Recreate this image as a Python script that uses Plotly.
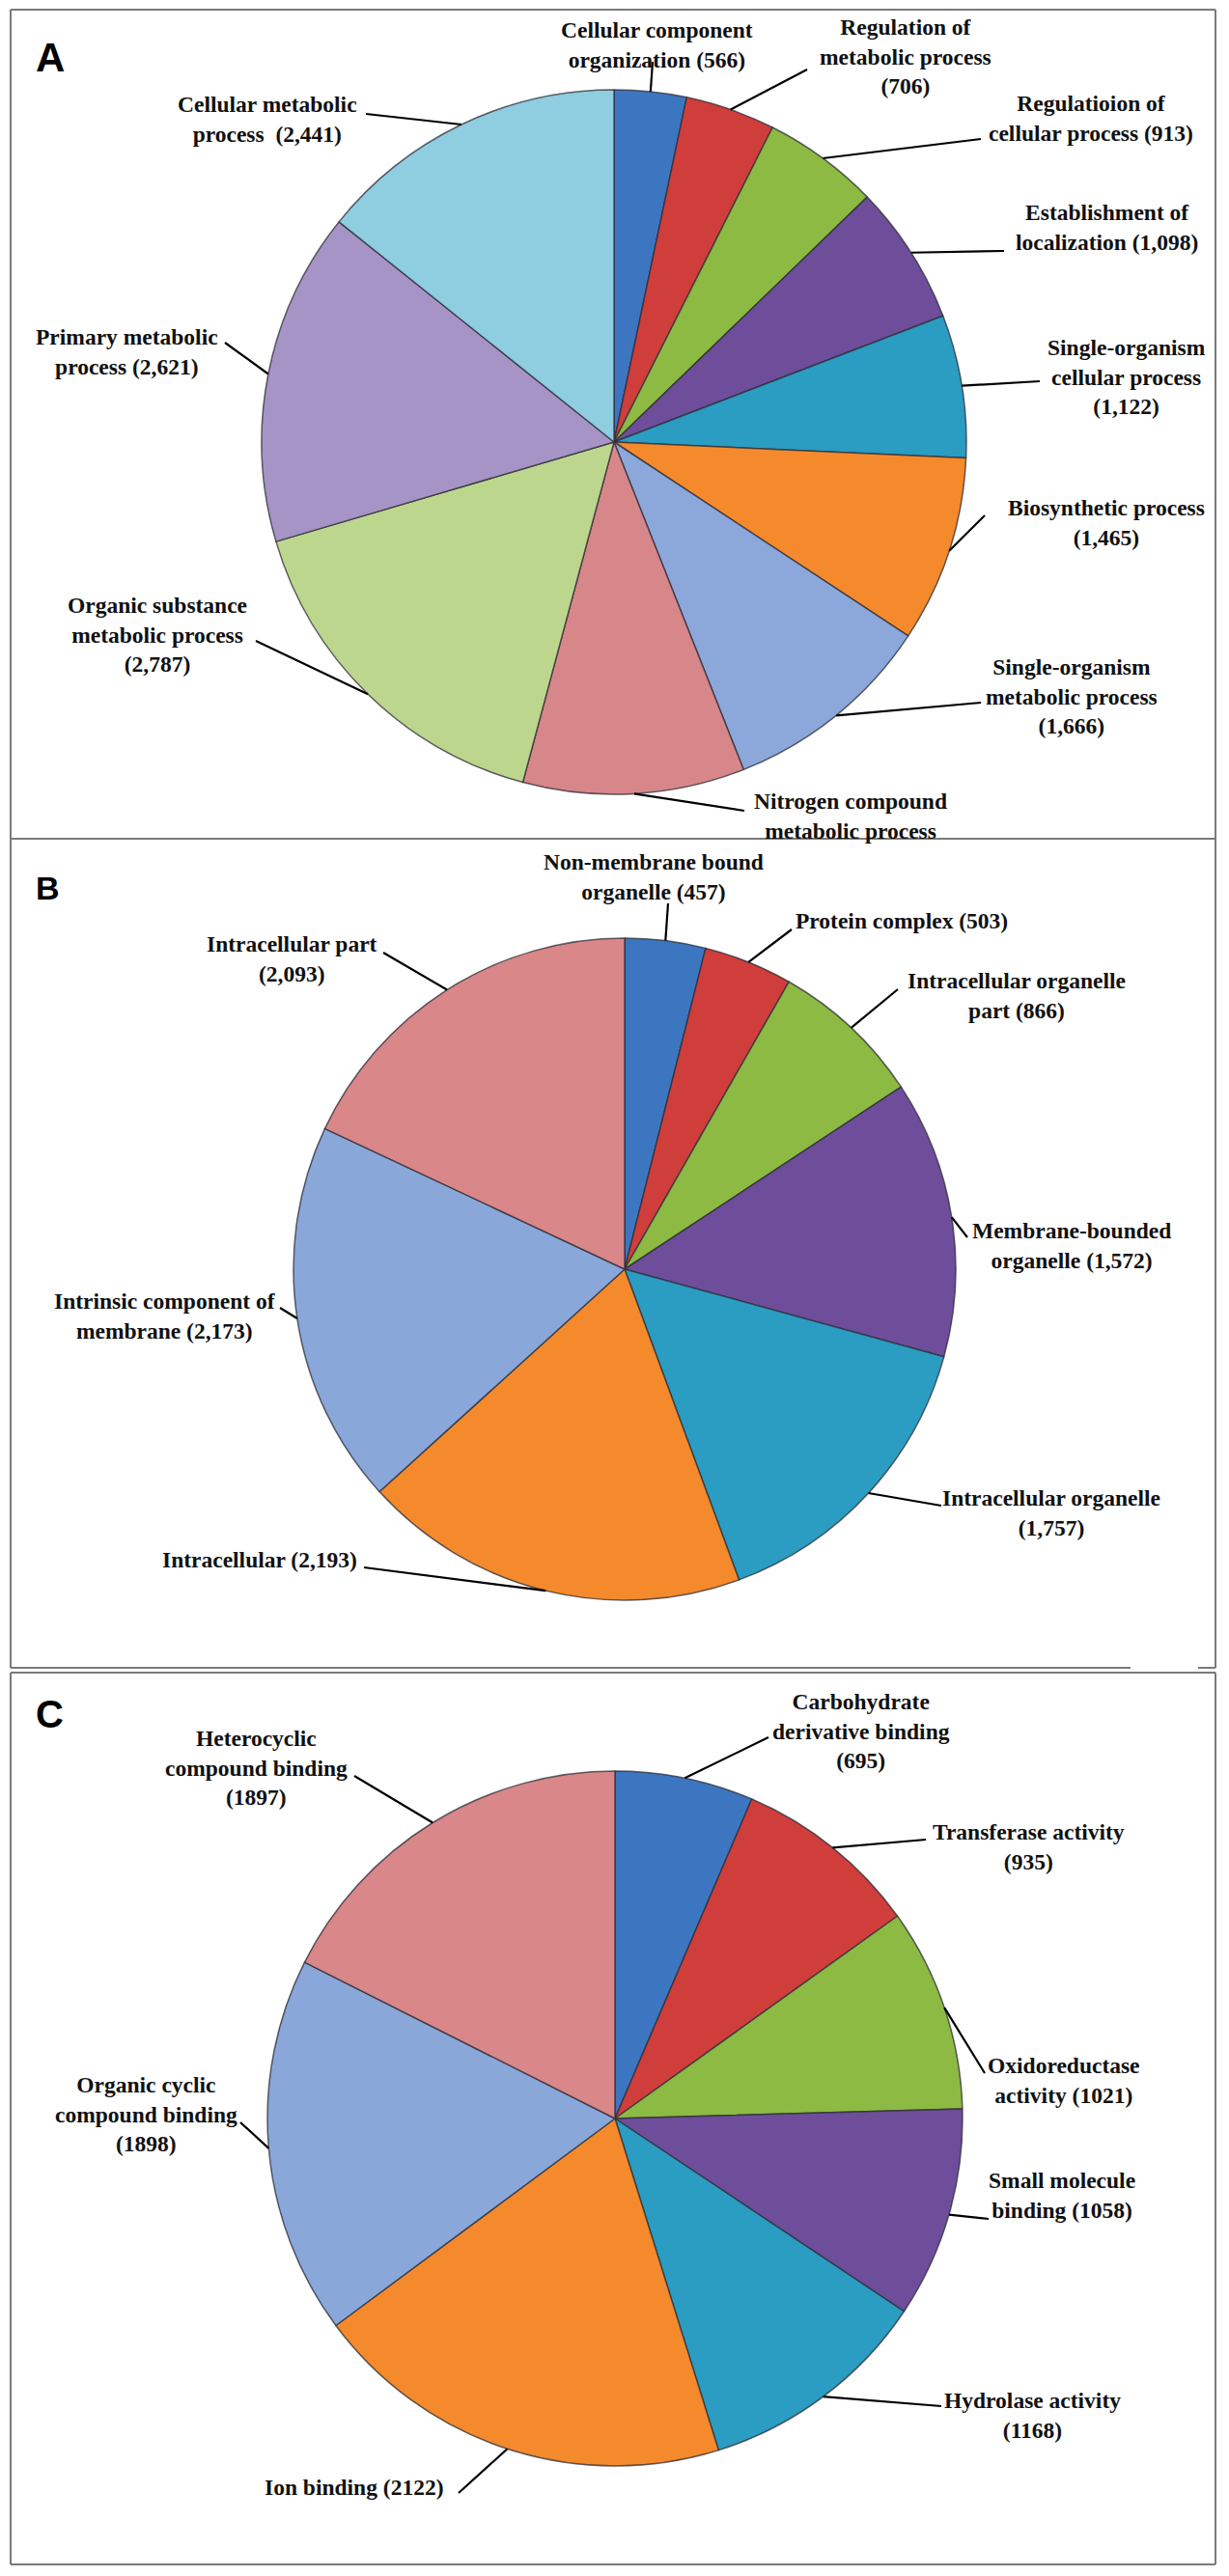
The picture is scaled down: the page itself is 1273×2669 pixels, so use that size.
import math
import plotly.graph_objects as go

W, H = 1273, 2669

# ---------------- data ----------------
a_labels = ["Cellular component<br>organization (566)",
            "Regulation of<br>metabolic process<br>(706)",
            "Regulatioion of<br>cellular process (913)",
            "Establishment of<br>localization (1,098)",
            "Single-organism<br>cellular process<br>(1,122)",
            "Biosynthetic process<br>(1,465)",
            "Single-organism<br>metabolic process<br>(1,666)",
            "Nitrogen compound<br>metabolic process",
            "Organic substance<br>metabolic process<br>(2,787)",
            "Primary metabolic<br>process (2,621)",
            "Cellular metabolic<br>process\u00a0 (2,441)"]
a_values = [566, 706, 913, 1098, 1122, 1465, 1666, 1740, 2787, 2621, 2441]

b_labels = ["Non-membrane bound<br>organelle (457)",
            "Protein complex (503)",
            "Intracellular organelle<br>part (866)",
            "Membrane-bounded<br>organelle (1,572)",
            "Intracellular organelle<br>(1,757)",
            "Intracellular (2,193)",
            "Intrinsic component of<br>membrane (2,173)",
            "Intracellular part<br>(2,093)"]
b_values = [457, 503, 866, 1572, 1757, 2193, 2173, 2093]

c_labels = ["Carbohydrate<br>derivative binding<br>(695)",
            "Transferase activity<br>(935)",
            "Oxidoreductase<br>activity (1021)",
            "Small molecule<br>binding (1058)",
            "Hydrolase activity<br>(1168)",
            "Ion binding (2122)",
            "Organic cyclic<br>compound binding<br>(1898)",
            "Heterocyclic<br>compound binding<br>(1897)"]
c_values = [695, 935, 1021, 1058, 1168, 2122, 1898, 1897]

panel_letters = ["A", "B", "C"]

# ---------------- styles ----------------
base_cols = ["#3D76C0", "#CF3E3B", "#8CBA43", "#6E4D9B", "#2B9CC2", "#F58A2C"]
a_colors = base_cols + ["#8CA8DA", "#D7878A", "#BDD68E", "#A694C6", "#8FCDE1"]
bc_colors = base_cols + ["#8AA7D9", "#D98788"]

# pie geometry in pixels: (cx, cy, r)
geo = {"A": (636, 458, 365), "B": (647, 1315, 343), "C": (637, 2195, 360)}

# label layout: (text_x, text_y, leader_anchor_x, leader_anchor_y) in pixels
a_pos = [(680, 47, 676, 64), (938, 58, 836, 72), (1130, 122, 1016, 144),
         (1146, 236, 1040, 260), (1167, 391, 1077, 395), (1146, 542, 1020, 534),
         (1110, 721, 1016, 728), (881, 845, 771, 840), (163, 657, 265, 664),
         (131, 364, 233, 355), (277, 123, 379, 118)]
b_pos = [(677, 909, 692, 936), (934, 954, 820, 963), (1053, 1031, 930, 1025),
         (1110, 1290, 1002, 1282), (1089, 1567, 975, 1560), (269, 1616, 377, 1624),
         (171, 1363, 290, 1355), (302, 994, 397, 987)]
c_pos = [(892, 1793, 796, 1800), (1065, 1913, 959, 1906), (1102, 2155, 1020, 2148),
         (1100, 2274, 1024, 2299), (1069, 2502, 975, 2493), (367, 2577, 475, 2583),
         (151, 2190, 249, 2199), (265, 1831, 367, 1840)]

letter_pos = {"A": (52, 60, 42), "B": (49, 920, 34), "C": (51, 1776, 40)}

LABEL_FONT = dict(family="Liberation Serif", size=23.5, color="#111111")


def px(x):
    return x / W


def py(y):
    return 1 - y / H


fig = go.Figure()
shapes = []
annotations = []

panels = [("A", a_labels, a_values, a_colors, a_pos),
          ("B", b_labels, b_values, bc_colors, b_pos),
          ("C", c_labels, c_values, bc_colors, c_pos)]

for key, labels, values, colors, pos in panels:
    cx, cy, r = geo[key]
    fig.add_trace(go.Pie(
        labels=[l.replace("<br>", " ") for l in labels],
        values=values,
        sort=False,
        direction="clockwise",
        rotation=0,
        textinfo="none",
        textposition="none",
        hoverinfo="label+value",
        showlegend=False,
        marker=dict(colors=colors, line=dict(color="rgba(45,45,55,0.75)", width=1.5)),
        domain=dict(x=[px(cx - r), px(cx + r)], y=[py(cy + r), py(cy - r)]),
    ))
    total = float(sum(values))
    cum = 0.0
    for lab, v, (tx, ty, ax_, ay_) in zip(labels, values, pos):
        mid = (cum + v / 2) / total * 2 * math.pi
        cum += v
        tipx = cx + r * math.sin(mid)
        tipy = cy - r * math.cos(mid)
        shapes.append(dict(type="line", xref="paper", yref="paper",
                           x0=px(tipx), y0=py(tipy), x1=px(ax_), y1=py(ay_),
                           line=dict(color="#000000", width=2.2)))
        annotations.append(dict(xref="paper", yref="paper", x=px(tx), y=py(ty),
                                text="<b>" + lab + "</b>", showarrow=False,
                                xanchor="center", yanchor="middle", align="center",
                                font=LABEL_FONT))

# panel letters
for k in panel_letters:
    lx, ly, ls = letter_pos[k]
    annotations.append(dict(xref="paper", yref="paper", x=px(lx), y=py(ly),
                            text="<b>" + k + "</b>", showarrow=False,
                            xanchor="center", yanchor="middle",
                            font=dict(family="Liberation Sans", size=ls, color="#000000")))

# panel frames
border = dict(color="#7A7A7A", width=2)
frame_lines = [
    (11, 10, 1259, 10), (11, 10, 11, 869), (1259, 10, 1259, 869), (11, 869, 1259, 869),
    (11, 869, 11, 1728), (1259, 869, 1259, 1728), (11, 1728, 1171, 1728), (1241, 1728, 1259, 1728),
    (11, 1733, 1259, 1733), (11, 1733, 11, 2657), (1259, 1733, 1259, 2657), (11, 2657, 1259, 2657),
]
for x0, y0, x1, y1 in frame_lines:
    shapes.append(dict(type="line", xref="paper", yref="paper",
                       x0=px(x0), y0=py(y0), x1=px(x1), y1=py(y1), line=border))

fig.update_layout(
    width=W, height=H,
    margin=dict(l=0, r=0, t=0, b=0),
    paper_bgcolor="white", plot_bgcolor="white",
    shapes=shapes, annotations=annotations,
)

fig.write_html("out.html", config={"displayModeBar": False},
               post_script="document.body.style.margin='0';")
